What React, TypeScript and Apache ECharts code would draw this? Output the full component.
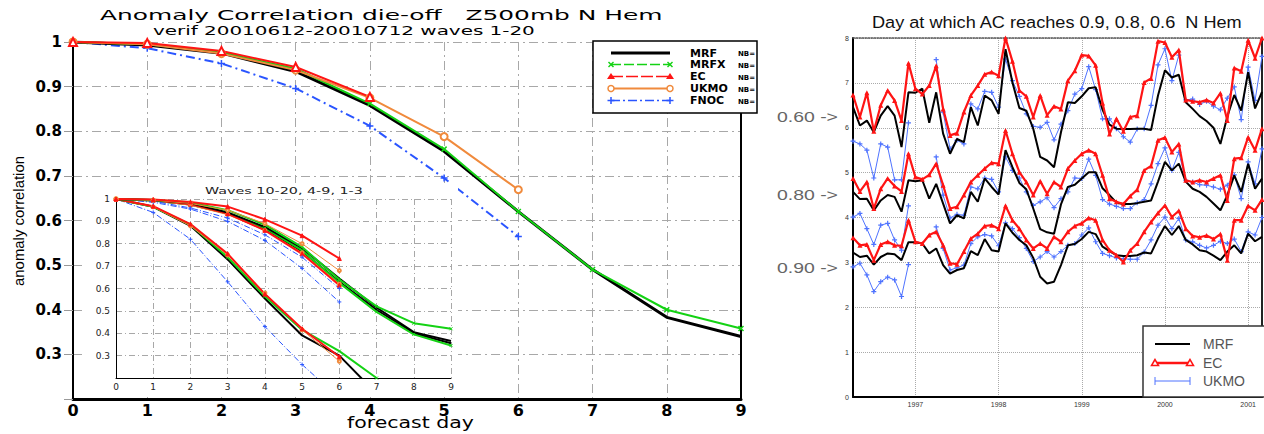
import React, { useEffect, useRef } from 'react';
import * as echarts from 'echarts';

// ---------------- data: main chart (waves 1-20) ----------------
const DAYS = [0, 1, 2, 3, 4, 5, 6, 7, 8, 9];
const mainMRF = [1, 0.993, 0.975, 0.934, 0.858, 0.755, 0.62, 0.49, 0.383, 0.34];
const mainMRFX = [1, 0.995, 0.977, 0.94, 0.862, 0.76, 0.62, 0.49, 0.4, 0.358];
const mainEC = [1, 0.998, 0.98, 0.944, 0.877];
const mainUKMO = [1, 0.995, 0.974, 0.937, 0.875, 0.788, 0.669];
const mainFNOC = [1, 0.986, 0.952, 0.896, 0.812, 0.695, 0.564];

// ---------------- data: inset (waves 1-3, 4-9, 10-20) ----------------
const w13MRF = [1, 0.995, 0.982, 0.94, 0.875, 0.78, 0.645, 0.515, 0.405, 0.365];
const w13MRFX = [1, 0.996, 0.985, 0.95, 0.885, 0.785, 0.64, 0.52, 0.445, 0.42];
const w13EC = [1, 0.998, 0.987, 0.966, 0.909, 0.836, 0.734];
const w13UKMO = [1, 0.995, 0.98, 0.95, 0.89, 0.8, 0.68];
const w13FNOC = [1, 0.99, 0.96, 0.915, 0.84, 0.74, 0.6];
const w49MRF = [1, 0.993, 0.975, 0.935, 0.865, 0.765, 0.63, 0.505, 0.4, 0.355];
const w49MRFX = [1, 0.993, 0.975, 0.935, 0.87, 0.77, 0.625, 0.495, 0.395, 0.345];
const w49EC = [1, 0.995, 0.977, 0.935, 0.86, 0.755, 0.615];
const w49UKMO = [1, 0.993, 0.972, 0.93, 0.86, 0.76, 0.62];
const w49FNOC = [1, 0.985, 0.955, 0.9, 0.815, 0.69, 0.54];
const w1020MRF = [1, 0.965, 0.88, 0.73, 0.555, 0.39, 0.3, 0.13];
const w1020MRFX = [1, 0.965, 0.885, 0.74, 0.565, 0.415, 0.32, 0.2];
const w1020EC = [1, 0.968, 0.888, 0.755, 0.575, 0.42, 0.295];
const w1020UKMO = [1, 0.965, 0.88, 0.75, 0.58, 0.415, 0.275];
const w1020FNOC = [1, 0.94, 0.82, 0.63, 0.43, 0.26, 0.11];

// ---------------- data: right chart (day at which AC reaches level) ----------------
const MONTHS = [
  '1996-04', '1996-05', '1996-06', '1996-07', '1996-08', '1996-09', '1996-10', '1996-11', '1996-12',
  '1997-01', '1997-02', '1997-03', '1997-04', '1997-05', '1997-06', '1997-07', '1997-08', '1997-09', '1997-10', '1997-11', '1997-12',
  '1998-01', '1998-02', '1998-03', '1998-04', '1998-05', '1998-06', '1998-07', '1998-08', '1998-09', '1998-10', '1998-11', '1998-12',
  '1999-01', '1999-02', '1999-03', '1999-04', '1999-05', '1999-06', '1999-07', '1999-08', '1999-09', '1999-10', '1999-11', '1999-12',
  '2000-01', '2000-02', '2000-03', '2000-04', '2000-05', '2000-06', '2000-07', '2000-08', '2000-09', '2000-10', '2000-11', '2000-12',
  '2001-01', '2001-02', '2001-03',
];
const ac60MRF = [6.46, 6.05, 6.16, 5.9, 6.27, 6.48, 6.27, 5.57, 6.79, 6.78, 6.87, 6.11, 6.79, 5.87, 5.42, 5.75, 5.68, 6.46, 6.05, 6.72, 6.61, 6.31, 7.75, 7.01, 6.44, 6.38, 5.98, 5.35, 5.27, 5.12, 5.9, 6.57, 6.55, 6.7, 6.88, 6.9, 6.4, 6.07, 5.98, 5.97, 5.97, 5.98, 5.98, 5.95, 6.72, 7.28, 7.12, 7.18, 6.57, 6.42, 6.26, 6.15, 6.0, 5.64, 6.25, 6.73, 6.38, 7.24, 6.43, 6.8];
const ac60EC = [6.73, 6.24, 6.78, 5.92, 6.5, 6.83, 6.61, 6.16, 7.44, 6.87, 6.75, 6.94, 7.38, 6.42, 5.83, 5.88, 6.35, 6.72, 6.94, 7.19, 7.24, 7.16, 8.0, 7.48, 6.83, 6.7, 6.24, 6.72, 6.28, 6.48, 6.42, 7.05, 7.27, 7.62, 7.6, 7.39, 6.55, 5.86, 6.2, 5.92, 6.24, 6.27, 7.01, 7.1, 7.93, 7.9, 7.57, 7.73, 6.62, 6.59, 6.57, 6.62, 6.55, 6.77, 6.16, 7.33, 7.26, 7.95, 7.55, 8.0];
const ac60UKMO = [5.7, 5.64, 5.5, 4.88, 5.64, 5.57, 4.84, 4.84, 6.11, null, null, null, 7.52, 6.35, 5.53, 5.72, 5.64, 6.53, 6.42, 6.81, 6.79, 6.46, 7.53, 7.05, 6.7, 6.31, 6.03, 6.01, 6.12, 5.73, 6.08, 6.38, 6.75, 6.87, 7.36, 6.85, 6.2, 6.2, 5.98, 5.8, 5.68, 5.97, 5.98, 6.5, 7.4, 7.76, 7.05, 7.62, 6.62, 6.64, 6.52, 6.59, 6.48, 6.4, 6.66, 6.91, 6.18, 7.35, 6.61, 7.59];
const ac80MRF = [4.57, 4.41, 4.42, 4.16, 4.38, 4.5, 4.46, 4.13, 4.83, 4.81, 4.83, 4.42, 4.75, 4.31, 3.87, 4.05, 3.98, 4.57, 4.35, 4.87, 4.68, 4.51, 5.5, 5.12, 4.77, 4.63, 4.2, 3.74, 3.67, 3.64, 4.29, 4.68, 4.73, 4.87, 5.01, 5.01, 4.65, 4.5, 4.33, 4.3, 4.3, 4.32, 4.35, 4.38, 4.8, 5.24, 5.05, 5.2, 4.8, 4.64, 4.57, 4.46, 4.31, 4.16, 4.5, 4.94, 4.57, 5.2, 4.64, 4.87];
const ac80EC = [4.87, 4.58, 4.79, 4.2, 4.64, 4.87, 4.7, 4.58, 5.42, 4.9, 4.85, 4.95, 5.2, 4.72, 4.2, 4.24, 4.5, 4.79, 4.94, 5.09, 5.22, 5.2, 5.94, 5.42, 5.01, 4.79, 4.5, 4.81, 4.53, 4.79, 4.68, 5.09, 5.27, 5.42, 5.5, 5.42, 4.94, 4.42, 4.35, 4.3, 4.48, 4.62, 5.05, 5.15, 5.72, 5.78, 5.46, 5.64, 4.83, 4.79, 4.83, 4.79, 4.87, 4.94, 4.38, 5.31, 5.33, 5.79, 5.5, 5.98];
const ac80UKMO = [4.01, 4.09, 3.75, 3.4, 3.83, 3.87, 3.5, 3.27, 4.26, null, null, null, 5.35, 4.5, 3.99, 4.07, 4.05, 4.68, 4.64, 4.88, 4.85, 4.57, 5.35, 5.05, 4.88, 4.57, 4.27, 4.35, 4.44, 4.22, 4.42, 4.57, 4.88, 4.87, 5.3, 4.94, 4.4, 4.3, 4.25, 4.2, 4.2, 4.33, 4.4, 4.75, 5.2, 5.55, 5.05, 5.45, 4.83, 4.79, 4.73, 4.72, 4.68, 4.63, 4.72, 4.95, 4.42, 5.24, 4.75, 5.53];
const ac90MRF = [3.22, 3.12, 3.15, 2.95, 3.12, 3.2, 3.18, 3.05, 3.45, 3.45, 3.42, 3.2, 3.31, 2.94, 2.75, 2.83, 2.87, 3.25, 3.16, 3.52, 3.27, 3.24, 3.87, 3.66, 3.5, 3.38, 3.1, 2.68, 2.53, 2.57, 2.94, 3.38, 3.41, 3.52, 3.68, 3.63, 3.35, 3.25, 3.16, 3.14, 3.14, 3.16, 3.22, 3.2, 3.53, 3.81, 3.61, 3.81, 3.5, 3.4, 3.27, 3.24, 3.15, 3.05, 3.24, 3.38, 3.2, 3.64, 3.47, 3.57];
const ac90EC = [3.55, 3.38, 3.4, 3.05, 3.4, 3.46, 3.38, 3.37, 3.94, 3.46, 3.42, 3.61, 3.68, 3.38, 2.98, 2.96, 3.24, 3.53, 3.64, 3.81, 3.83, 3.75, 4.26, 3.94, 3.75, 3.5, 3.31, 3.42, 3.31, 3.57, 3.46, 3.68, 3.81, 3.87, 3.99, 3.94, 3.5, 3.27, 3.16, 3.01, 3.27, 3.42, 3.68, 3.9, 4.1, 4.27, 4.01, 4.15, 3.75, 3.59, 3.56, 3.6, 3.52, 3.63, 3.05, 3.94, 3.94, 4.26, 4.16, 4.4];
const ac90UKMO = [2.9, 2.98, 2.72, 2.35, 2.57, 2.67, 2.61, 2.24, 2.95, null, null, null, 3.79, 3.31, 2.83, 2.88, 2.94, 3.42, 3.57, 3.62, 3.59, 3.37, 3.88, 3.75, 3.55, 3.31, 3.02, 3.12, 3.24, 3.12, 3.24, 3.38, 3.42, 3.61, 3.77, 3.46, 3.2, 3.15, 3.1, 3.08, 3.07, 3.07, 3.23, 3.5, 3.83, 4.01, 3.75, 3.98, 3.5, 3.46, 3.38, 3.32, 3.38, 3.47, 3.42, 3.52, 3.24, 3.68, 3.61, 4.0];

const LEGEND_MAIN = ['MRF', 'MRFX', 'EC', 'UKMO', 'FNOC'];
const LEGEND_RIGHT = ['MRF', 'EC', 'UKMO'];
const LEVEL_LABELS = ['0.60 ->', '0.80 ->', '0.90 ->'];

// ---------------- styles ----------------
const C_MRF = '#000000';
const C_MRFX = '#14d214';
const C_EC = '#ff1414';
const C_UKMO = '#f08a3c';
const C_FNOC = '#2a55ff';
const C_UK_R = '#4f73ff';
const GRID_C = '#a8a8a8';
const DASHDOT = [9, 4, 2, 4];
const SYM_X = 'path://M0,0L10,10M10,0L0,10';
const SYM_PLUS = 'path://M5,0L5,10M0,5L10,5';

function fitScale(text: string, fontSize: number, family: string, weight: string, target: number) {
  try {
    const ctx = document.createElement('canvas').getContext('2d');
    if (!ctx) return 1;
    ctx.font = `${weight} ${fontSize}px "${family}"`;
    const w = ctx.measureText(text).width;
    return w > 0 ? target / w : 1;
  } catch (e) {
    return 1;
  }
}

function sText(text: string, x: number, y: number, fontSize: number, family: string, weight: string, target: number, color: string, extra: any = {}) {
  return {
    type: 'text',
    x,
    y,
    z: 100,
    scaleX: fitScale(text, fontSize, family, weight, target),
    style: { text, fontSize, fontFamily: family, fontWeight: weight, fill: color, align: 'left', verticalAlign: 'middle' },
    ...extra,
  };
}

const pairs = (arr: number[]) => arr.map((v, i) => [DAYS[i], v]);

const yFmt = (v: number) => (v < 0.25 ? '' : v > 0.999 ? '1' : v.toFixed(1));

function mainOption(): any {
  const ly = [53, 64.5, 76.5, 88.5, 100.5];
  const x1 = 611;
  const x2 = 670;
  const g: any[] = [];
  g.push({ type: 'rect', z: 100, shape: { x: 593, y: 41, width: 164, height: 72 }, style: { fill: '#fff', stroke: '#000', lineWidth: 1.5 } });
  g.push({ type: 'line', z: 101, shape: { x1, y1: ly[0], x2, y2: ly[0] }, style: { stroke: C_MRF, lineWidth: 3 } });
  g.push({ type: 'line', z: 101, shape: { x1, y1: ly[1], x2, y2: ly[1] }, style: { stroke: C_MRFX, lineWidth: 1.5, lineDash: [10, 3] } });
  [x1, x2].forEach((x) => {
    g.push({ type: 'line', z: 102, shape: { x1: x - 2.5, y1: ly[1] - 2.5, x2: x + 2.5, y2: ly[1] + 2.5 }, style: { stroke: C_MRFX, lineWidth: 1.5 } });
    g.push({ type: 'line', z: 102, shape: { x1: x - 2.5, y1: ly[1] + 2.5, x2: x + 2.5, y2: ly[1] - 2.5 }, style: { stroke: C_MRFX, lineWidth: 1.5 } });
  });
  g.push({ type: 'line', z: 101, shape: { x1, y1: ly[2], x2, y2: ly[2] }, style: { stroke: C_EC, lineWidth: 1.5, lineDash: [12, 3] } });
  [x1, x2].forEach((x) => {
    g.push({ type: 'polygon', z: 102, shape: { points: [[x, ly[2] - 3.5], [x - 4, ly[2] + 2.5], [x + 4, ly[2] + 2.5]] }, style: { fill: C_EC } });
  });
  g.push({ type: 'line', z: 101, shape: { x1, y1: ly[3], x2, y2: ly[3] }, style: { stroke: C_UKMO, lineWidth: 2 } });
  [x1, x2].forEach((x) => {
    g.push({ type: 'circle', z: 102, shape: { cx: x, cy: ly[3], r: 3 }, style: { fill: '#fff', stroke: C_UKMO, lineWidth: 1.5 } });
  });
  g.push({ type: 'line', z: 101, shape: { x1, y1: ly[4], x2, y2: ly[4] }, style: { stroke: C_FNOC, lineWidth: 1.5, lineDash: [9, 3, 2, 3] } });
  [x1, x2].forEach((x) => {
    g.push({ type: 'line', z: 102, shape: { x1: x - 3.5, y1: ly[4], x2: x + 3.5, y2: ly[4] }, style: { stroke: C_FNOC, lineWidth: 1.5 } });
    g.push({ type: 'line', z: 102, shape: { x1: x, y1: ly[4] - 3.5, x2: x, y2: ly[4] + 3.5 }, style: { stroke: C_FNOC, lineWidth: 1.5 } });
  });
  LEGEND_MAIN.forEach((name, i) => {
    g.push({ type: 'text', z: 103, x: 690, y: ly[i], style: { text: name, fontSize: 11, fontWeight: 'bold', fontFamily: 'DejaVu Sans', fill: '#000', align: 'left', verticalAlign: 'middle' } });
    g.push({ type: 'text', z: 103, x: 738, y: ly[i] + 1, style: { text: 'NB=', fontSize: 7, fontWeight: 'bold', fontFamily: 'DejaVu Sans', fill: '#000', align: 'left', verticalAlign: 'middle' } });
  });
  g.push(sText('Anomaly Correlation die-off   Z500mb N Hem', 100, 15.5, 14, 'DejaVu Sans', 'normal', 563, '#000'));
  g.push(sText('verif 20010612-20010712 waves 1-20', 153, 31, 12, 'DejaVu Sans', 'normal', 382, '#000'));
  g.push(sText('forecast day', 347, 423, 15, 'DejaVu Sans', 'normal', 127, '#000'));
  const acScale = fitScale('anomaly correlation', 15, 'Liberation Sans', 'normal', 130);
  g.push({ type: 'text', z: 100, x: 18, y: 221, rotation: Math.PI / 2, scaleX: acScale, style: { text: 'anomaly correlation', fontSize: 15, fontFamily: 'Liberation Sans', fill: '#000', align: 'center', verticalAlign: 'middle' } });

  const mk = (name: string, data: number[], color: string, width: number, type: any, symbol: string, size: number) => ({
    name,
    type: 'line',
    data: pairs(data),
    symbol,
    symbolSize: size,
    showSymbol: symbol !== 'none',
    showAllSymbol: true,
    lineStyle: { color, width, type },
    itemStyle: { color, borderColor: color, borderWidth: 1.5 },
    z: 3,
  });

  return {
    animation: false,
    grid: { left: 73, top: 42, width: 668, height: 357 },
    xAxis: {
      type: 'value', min: 0, max: 9, interval: 1,
      axisLine: { onZero: false, lineStyle: { color: '#000', width: 3 } },
      axisTick: { show: false },
      axisLabel: { fontSize: 16, fontWeight: 'bold', color: '#000', fontFamily: 'DejaVu Sans', margin: 3 },
      splitLine: { show: true, lineStyle: { color: GRID_C, type: DASHDOT, width: 1 } },
    },
    yAxis: [
      {
        type: 'value', min: 0.2, max: 1, interval: 0.1,
        axisLine: { show: true, lineStyle: { color: '#000', width: 2 } },
        axisTick: { show: true, length: 9, lineStyle: { color: '#999' } },
        axisLabel: { formatter: yFmt, fontSize: 15, fontWeight: 'bold', color: '#000', fontFamily: 'DejaVu Sans', margin: 11 },
        splitLine: { show: true, lineStyle: { color: GRID_C, type: DASHDOT, width: 1 } },
      },
      {
        type: 'value', min: 0.2, max: 1, position: 'right',
        axisLine: { show: true, lineStyle: { color: '#000', width: 2 } },
        axisTick: { show: false }, axisLabel: { show: false }, splitLine: { show: false },
      },
    ],
    series: [
      mk('FNOC', mainFNOC, C_FNOC, 2, DASHDOT, SYM_PLUS, 7),
      mk('MRF', mainMRF, C_MRF, 3, 'solid', 'none', 0),
      mk('MRFX', mainMRFX, C_MRFX, 2, 'solid', SYM_X, 5),
      mk('UKMO', mainUKMO, C_UKMO, 2, 'solid', 'emptyCircle', 7),
      mk('EC', mainEC, C_EC, 2, 'solid', 'emptyTriangle', 8),
    ],
    graphic: { elements: g },
  };
}

function insetOption(): any {
  const mk = (data: number[], color: string, width: number, type: any, symbol: string, size: number) => ({
    type: 'line',
    data: pairs(data),
    symbol,
    symbolSize: size,
    showSymbol: symbol !== 'none',
    showAllSymbol: true,
    clip: true,
    lineStyle: { color, width, type },
    itemStyle: { color, borderColor: color, borderWidth: 1 },
  });
  const groups = [
    [w1020FNOC, w1020MRF, w1020MRFX, w1020UKMO, w1020EC],
    [w49FNOC, w49MRF, w49MRFX, w49UKMO, w49EC],
    [w13FNOC, w13MRF, w13MRFX, w13UKMO, w13EC],
  ];
  const series: any[] = [];
  groups.forEach((gr) => {
    series.push(mk(gr[0], C_FNOC, 1, [6, 2, 1, 2], SYM_PLUS, 4));
    series.push(mk(gr[1], C_MRF, 2, 'solid', 'none', 0));
    series.push(mk(gr[2], C_MRFX, 2, 'solid', SYM_X, 3));
    series.push(mk(gr[3], C_UKMO, 1, 'solid', 'emptyCircle', 3));
    series.push(mk(gr[4], C_EC, 2, 'solid', 'triangle', 4));
  });
  return {
    animation: false,
    grid: { left: 30, top: 16, width: 335, height: 179 },
    xAxis: {
      type: 'value', min: 0, max: 9, interval: 1,
      axisLine: { onZero: false, lineStyle: { color: '#000', width: 1 } },
      axisTick: { show: false },
      axisLabel: { fontSize: 9, color: '#222', fontFamily: 'DejaVu Sans', margin: 4 },
      splitLine: { show: true, lineStyle: { color: GRID_C, type: [6, 3, 1, 3], width: 1 } },
    },
    yAxis: {
      type: 'value', min: 0.2, max: 1, interval: 0.1,
      axisLine: { show: true, lineStyle: { color: '#000', width: 1 } },
      axisTick: { show: false },
      axisLabel: { formatter: yFmt, fontSize: 9, color: '#222', fontFamily: 'DejaVu Sans', margin: 6 },
      splitLine: { show: true, lineStyle: { color: GRID_C, type: [6, 3, 1, 3], width: 1 } },
    },
    series,
    graphic: { elements: [sText('Waves 10-20, 4-9, 1-3', 119, 8, 8, 'DejaVu Sans', 'normal', 158, '#222')] },
  };
}

function rightOption(): any {
  const isJan = (_i: number, v: string) => typeof v === 'string' && v.slice(5) === '01';
  const mk = (data: (number | null)[], kind: string) => {
    if (kind === 'MRF') {
      return { type: 'line', data, symbol: 'none', showSymbol: false, lineStyle: { color: C_MRF, width: 2 }, itemStyle: { color: C_MRF }, z: 3 };
    }
    if (kind === 'EC') {
      return { type: 'line', data, symbol: 'triangle', symbolSize: 5, showSymbol: true, showAllSymbol: true, lineStyle: { color: C_EC, width: 2.2 }, itemStyle: { color: C_EC }, z: 4 };
    }
    return { type: 'line', data, symbol: SYM_PLUS, symbolSize: 5, showSymbol: true, showAllSymbol: true, connectNulls: false, lineStyle: { color: C_UK_R, width: 1 }, itemStyle: { color: C_UK_R, borderColor: C_UK_R, borderWidth: 1.2 }, z: 2 };
  };
  const g: any[] = [];
  g.push(sText('Day at which AC reaches 0.9, 0.8, 0.6  N Hem', 112, 22, 17, 'Liberation Sans', 'normal', 371, '#111'));
  const levY = [117, 195, 268];
  LEVEL_LABELS.forEach((t, i) => g.push(sText(t, 17, levY[i], 14, 'Liberation Sans', 'normal', 61, '#666')));
  g.push({ type: 'rect', z: 100, shape: { x: 383, y: 326, width: 130, height: 71 }, style: { fill: '#fff', stroke: '#333', lineWidth: 1.5 } });
  const ry = [344, 363, 381];
  const lx1 = 395;
  const lx2 = 430;
  g.push({ type: 'line', z: 101, shape: { x1: lx1, y1: ry[0], x2: lx2, y2: ry[0] }, style: { stroke: C_MRF, lineWidth: 2 } });
  g.push({ type: 'line', z: 101, shape: { x1: lx1, y1: ry[1], x2: lx2, y2: ry[1] }, style: { stroke: C_EC, lineWidth: 2.5 } });
  [lx1, lx2].forEach((x) => {
    g.push({ type: 'polygon', z: 102, shape: { points: [[x, ry[1] - 3.5], [x - 3.5, ry[1] + 2.5], [x + 3.5, ry[1] + 2.5]] }, style: { fill: '#fff', stroke: C_EC, lineWidth: 1.5 } });
  });
  g.push({ type: 'line', z: 101, shape: { x1: lx1, y1: ry[2], x2: lx2, y2: ry[2] }, style: { stroke: C_UK_R, lineWidth: 1 } });
  [lx1, lx2].forEach((x) => {
    g.push({ type: 'line', z: 102, shape: { x1: x, y1: ry[2] - 4, x2: x, y2: ry[2] + 4 }, style: { stroke: C_UK_R, lineWidth: 1 } });
  });
  LEGEND_RIGHT.forEach((t, i) => {
    g.push({ type: 'text', z: 103, x: 443, y: ry[i], style: { text: t, fontSize: 14, fontFamily: 'Liberation Sans', fill: '#555', align: 'left', verticalAlign: 'middle' } });
  });

  return {
    animation: false,
    grid: { left: 93, top: 38, width: 409, height: 359 },
    xAxis: [
      {
        type: 'category', data: MONTHS, boundaryGap: false,
        axisLine: { onZero: false, lineStyle: { color: '#000', width: 2 } },
        axisTick: { show: false },
        axisLabel: { interval: isJan, formatter: (v: string) => v.slice(0, 4), fontSize: 7, color: '#333', fontFamily: 'Liberation Sans', margin: 4 },
        splitLine: { show: true, interval: isJan, lineStyle: { color: '#aaa', type: 'dotted', width: 1 } },
      },
      {
        type: 'category', data: MONTHS, boundaryGap: false, position: 'top',
        axisLine: { onZero: false, lineStyle: { color: '#555', width: 1.5, type: 'dotted' } },
        axisTick: { show: false }, axisLabel: { show: false }, splitLine: { show: false },
      },
    ],
    yAxis: [
      {
        type: 'value', min: 0, max: 8, interval: 1,
        axisLine: { show: true, lineStyle: { color: '#000', width: 2 } },
        axisTick: { show: false },
        axisLabel: { fontSize: 7, color: '#333', fontFamily: 'Liberation Sans', margin: 4 },
        splitLine: { show: true, lineStyle: { color: '#aaa', type: 'dotted', width: 1 } },
      },
      {
        type: 'value', min: 0, max: 8, position: 'right',
        axisLine: { show: true, lineStyle: { color: '#222', width: 2 } },
        axisTick: { show: false }, axisLabel: { show: false }, splitLine: { show: false },
      },
    ],
    series: [
      mk(ac60UKMO, 'UKMO'), mk(ac60MRF, 'MRF'), mk(ac60EC, 'EC'),
      mk(ac80UKMO, 'UKMO'), mk(ac80MRF, 'MRF'), mk(ac80EC, 'EC'),
      mk(ac90UKMO, 'UKMO'), mk(ac90MRF, 'MRF'), mk(ac90EC, 'EC'),
    ],
    graphic: { elements: g },
  };
}

function Chart({ build, style }: { build: () => any; style: React.CSSProperties }) {
  const ref = useRef<HTMLDivElement>(null);
  useEffect(() => {
    if (!ref.current) return;
    const chart = echarts.init(ref.current, null, { renderer: 'svg' });
    chart.setOption(build());
    return () => chart.dispose();
  }, []);
  return <div ref={ref} style={style} />;
}

export default function App() {
  return (
    <div style={{ position: 'absolute', left: 0, top: 0, width: 1264, height: 434, background: '#fff', overflow: 'hidden' }}>
      <Chart build={mainOption} style={{ position: 'absolute', left: 0, top: 0, width: 760, height: 434 }} />
      <Chart build={insetOption} style={{ position: 'absolute', left: 86, top: 183, width: 372, height: 214, background: '#fff' }} />
      <Chart build={rightOption} style={{ position: 'absolute', left: 760, top: 0, width: 504, height: 434 }} />
    </div>
  );
}
